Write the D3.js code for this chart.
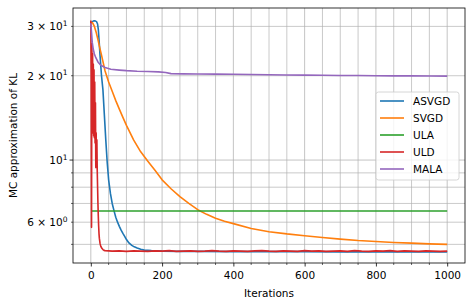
<!DOCTYPE html>
<html>
<head>
<meta charset="utf-8">
<script src="https://cdn.jsdelivr.net/npm/d3@7"></script>
<style>
  body { margin: 0; background: #fff; }
  text { font-family: "DejaVu Sans", sans-serif; }
</style>
</head>
<body>
<div id="chart"></div>
<script>
// values (iteration, MC estimate of KL)
const seriesNames = ["ASVGD", "SVGD", "ULA", "ULD", "MALA"];
const seriesColors = ["#1f77b4", "#ff7f0e", "#2ca02c", "#d62728", "#9467bd"];

const asvgdIter = [0, 4, 8, 12, 16, 19, 21, 23, 26, 30, 34, 38, 42, 46, 50, 55, 60, 65, 70, 75, 80, 85, 90, 95, 100, 107, 115, 122, 130, 140, 150, 170, 200, 250, 300, 400, 500, 600, 700, 800, 900, 1000];
const asvgdKL = [30.8, 31.2, 31.4, 31.4, 31.2, 30.6, 29.3, 27.0, 23.5, 20.0, 17.8, 14.5, 11.8, 9.8, 8.5, 7.6, 7.0, 6.6, 6.25, 6.0, 5.8, 5.62, 5.47, 5.34, 5.2, 5.06, 4.96, 4.9, 4.85, 4.8, 4.77, 4.75, 4.73, 4.72, 4.72, 4.71, 4.71, 4.71, 4.70, 4.70, 4.70, 4.70];

const svgdIter = [0, 5, 10, 15, 20, 25, 30, 40, 50, 60, 70, 80, 90, 100, 120, 140, 160, 180, 200, 225, 250, 275, 300, 325, 350, 375, 400, 450, 500, 550, 600, 650, 700, 750, 800, 850, 900, 950, 1000];
const svgdKL = [31.0, 30.9, 30.0, 28.6, 26.9, 25.2, 23.7, 20.8, 19.0, 17.6, 16.3, 15.2, 14.2, 13.3, 11.8, 10.7, 9.9, 9.2, 8.5, 7.9, 7.4, 7.0, 6.65, 6.4, 6.2, 6.05, 5.93, 5.7, 5.55, 5.45, 5.37, 5.29, 5.22, 5.16, 5.12, 5.08, 5.05, 5.02, 5.0];

const ulaIter = [3, 1000];
const ulaKL = [6.58, 6.58];

const uldIter = [0, 1, 2, 3, 4, 5, 6, 7, 8, 9, 10, 11, 12, 13, 14, 15, 16, 17, 18, 19, 20, 21, 22, 23, 24, 26, 28, 31, 34, 37,
  40, 60, 80, 100, 120, 140, 160, 180, 200, 220, 240, 260, 280, 300, 320, 340, 360, 380, 400, 420, 440, 460, 480, 500,
  520, 540, 560, 580, 600, 620, 640, 660, 680, 700, 720, 740, 760, 780, 800, 820, 840, 860, 880, 900, 920, 940, 960, 980, 1000];
const uldKL = [31.5, 20, 5.75, 26, 13, 24, 12.5, 22, 12.2, 21, 12, 19, 11.5, 16, 9.4, 12.5, 9.5, 11.8, 9.2, 8.0, 7.0, 6.3, 5.8, 5.45, 5.25, 5.03, 4.92, 4.84, 4.79, 4.76,
  4.75, 4.73, 4.74, 4.72, 4.74, 4.73, 4.72, 4.74, 4.73, 4.75, 4.72, 4.73, 4.74, 4.72, 4.73, 4.75, 4.73, 4.72, 4.74, 4.73, 4.72, 4.74, 4.75, 4.73,
  4.72, 4.74, 4.73, 4.72, 4.75, 4.73, 4.74, 4.72, 4.73, 4.74, 4.72, 4.75, 4.73, 4.72, 4.74, 4.73, 4.75, 4.72, 4.74, 4.73, 4.72, 4.74, 4.73, 4.72, 4.73];

const malaIter = [0, 2, 4, 7, 10, 14, 20, 28, 40, 56, 80, 100, 130, 160, 190, 210, 225, 260, 300, 350, 400, 450, 500, 550, 600, 650, 700, 750, 800, 850, 900, 950, 1000];
const malaKL = [30.8, 28.5, 26.3, 24.8, 23.9, 23.2, 22.4, 21.8, 21.4, 21.1, 20.95, 20.85, 20.75, 20.7, 20.65, 20.55, 20.35, 20.3, 20.28, 20.27, 20.25, 20.2, 20.15, 20.12, 20.1, 20.08, 20.05, 20.03, 20.0, 19.98, 19.97, 19.95, 19.93];

const xMajorTicks = [0, 200, 400, 600, 800, 1000];
const yLabelTicks = [6, 10, 20, 30];
const yLabelBase = ["6", "", "2", "3"];
const yLabelExp = ["0", "1", "1", "1"];
const yMinorTicks = [5, 6, 7, 8, 9, 20, 30];

const W = 474, H = 307;
const mLeft = 73, mRight = 465, mTop = 8, mBottom = 263;
const fs = 10.5;

const svg = d3.select("#chart").append("svg")
    .attr("width", W)
    .attr("height", H);

const x = d3.scaleLinear().domain([-50, 1050]).range([mLeft, mRight]);
const y = d3.scaleLog().domain([4.29, 34.9]).range([mBottom, mTop]);

// grid
const grid = svg.append("g");
const xMinor = d3.range(-50, 1051, 50).filter(d => d > -50 && d < 1050);
grid.selectAll("line.vx")
    .data(xMinor)
    .join("line")
    .attr("x1", d => x(d)).attr("x2", d => x(d))
    .attr("y1", mTop).attr("y2", mBottom)
    .attr("stroke", "#b0b0b0").attr("stroke-opacity", 0.75)
    .attr("stroke-width", d => d % 200 == 0 ? 1 : 0.9);
grid.selectAll("line.hy")
    .data([5, 6, 7, 8, 9, 10, 20, 30])
    .join("line")
    .attr("x1", mLeft).attr("x2", mRight)
    .attr("y1", d => y(d)).attr("y2", d => y(d))
    .attr("stroke", "#b0b0b0").attr("stroke-opacity", 0.75)
    .attr("stroke-width", d => d == 10 ? 1 : 0.9);

// lines
const line = d3.line()
    .x(d => x(d[0]))
    .y(d => y(d[1]));

const allSeries = [
    [asvgdIter, asvgdKL],
    [svgdIter, svgdKL],
    [ulaIter, ulaKL],
    [uldIter, uldKL],
    [malaIter, malaKL]
];

const plot = svg.append("g");
allSeries.forEach((s, i) => {
    const pts = s[0].map((it, j) => [it, s[1][j]]);
    plot.append("path")
        .datum(pts)
        .attr("fill", "none")
        .attr("stroke", seriesColors[i])
        .attr("stroke-width", 1.6)
        .attr("stroke-linejoin", "round")
        .attr("d", line);
});

// x axis
const xAxis = d3.axisBottom(x).tickValues(xMajorTicks).tickSize(3.5).tickPadding(5).tickFormat(d3.format("d"));
const gx = svg.append("g").attr("transform", `translate(0,${mBottom})`).call(xAxis);
gx.select(".domain").remove();
gx.selectAll("text").attr("font-size", fs).attr("fill", "#000").style("font-family", "DejaVu Sans");
gx.selectAll("line").attr("stroke", "#000").attr("stroke-width", 0.8);
svg.append("g").selectAll("line")
    .data(xMinor.filter(d => d % 200 != 0))
    .join("line")
    .attr("x1", d => x(d)).attr("x2", d => x(d))
    .attr("y1", mBottom).attr("y2", mBottom + 2)
    .attr("stroke", "#000").attr("stroke-width", 0.6);

// y axis ticks
svg.append("g").selectAll("line")
    .data(yMinorTicks)
    .join("line")
    .attr("x1", mLeft - 2).attr("x2", mLeft)
    .attr("y1", d => y(d)).attr("y2", d => y(d))
    .attr("stroke", "#000").attr("stroke-width", 0.6);
svg.append("line")
    .attr("x1", mLeft - 3.5).attr("x2", mLeft)
    .attr("y1", y(10)).attr("y2", y(10))
    .attr("stroke", "#000").attr("stroke-width", 0.8);

const yl = svg.append("g").selectAll("text")
    .data(yLabelTicks)
    .join("text")
    .attr("x", mLeft - 5.5)
    .attr("y", d => y(d) + 4)
    .attr("text-anchor", "end")
    .attr("font-size", fs);
yl.each(function(d, i) {
    const t = d3.select(this);
    t.append("tspan").text(yLabelBase[i] ? yLabelBase[i] + " \u00d7 10" : "10");
    t.append("tspan").attr("dy", -4.5).attr("font-size", 7.5).text(yLabelExp[i]);
});

// frame
svg.append("rect")
    .attr("x", mLeft).attr("y", mTop)
    .attr("width", mRight - mLeft).attr("height", mBottom - mTop)
    .attr("fill", "none").attr("stroke", "#000").attr("stroke-width", 0.8);

// axis labels
svg.append("text")
    .attr("x", (mLeft + mRight) / 2).attr("y", 297)
    .attr("text-anchor", "middle").attr("font-size", fs)
    .text("Iterations");
svg.append("text")
    .attr("transform", `translate(17,${(mTop + mBottom) / 2}) rotate(-90)`)
    .attr("text-anchor", "middle").attr("font-size", fs)
    .text("MC approximation of KL");

// legend
const lg = svg.append("g").attr("transform", "translate(376,92)");
lg.append("rect")
    .attr("width", 83).attr("height", 88).attr("rx", 2.5)
    .attr("fill", "#fff").attr("fill-opacity", 0.8)
    .attr("stroke", "#cccccc").attr("stroke-width", 0.8);
seriesNames.forEach((name, i) => {
    const yy = 9 + i * 17;
    lg.append("line")
        .attr("x1", 4).attr("x2", 28)
        .attr("y1", yy).attr("y2", yy)
        .attr("stroke", seriesColors[i]).attr("stroke-width", 1.6);
    lg.append("text")
        .attr("x", 37).attr("y", yy + 3.8)
        .attr("font-size", fs)
        .text(name);
});
</script>
</body>
</html>
